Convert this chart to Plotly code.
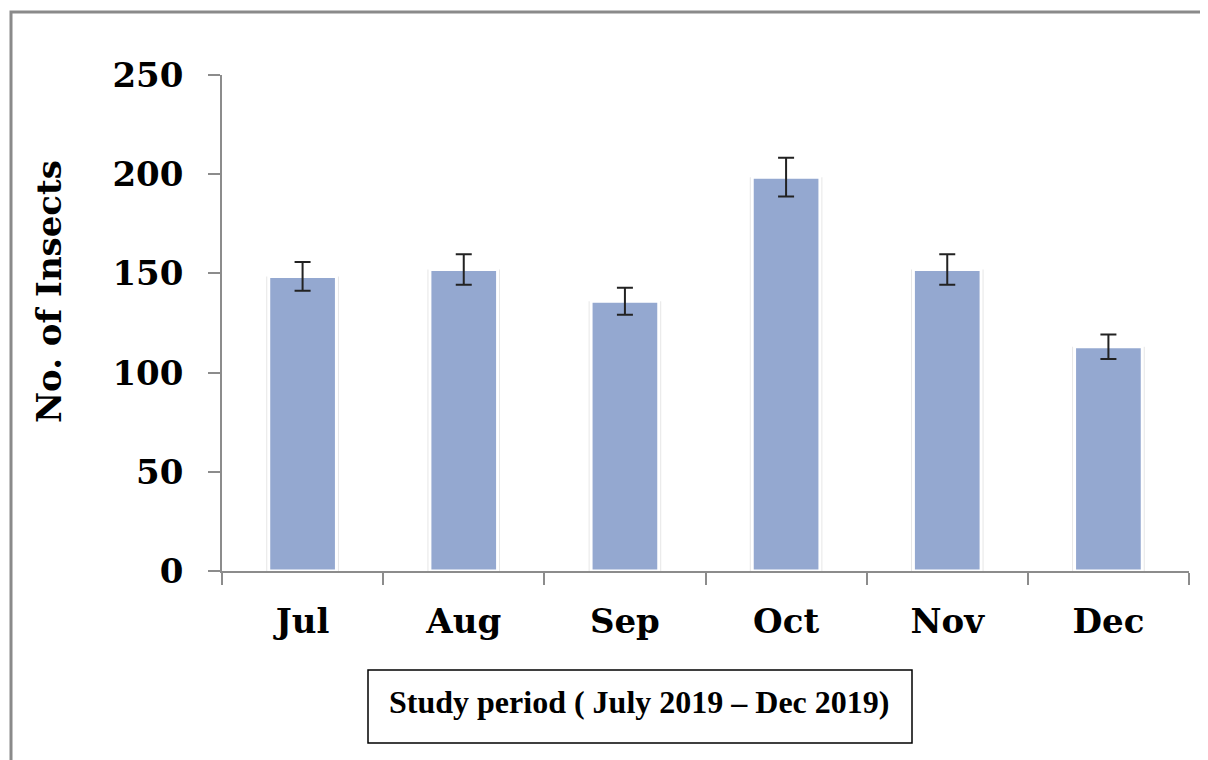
import plotly.graph_objects as go

months = ["Jul", "Aug", "Sep", "Oct", "Nov", "Dec"]
insects = [148.5, 152, 136, 198.5, 152, 113]
errors = [7.2, 7.7, 6.8, 9.8, 7.7, 6.2]
y_ticks = [0, 50, 100, 150, 200, 250]
y_title = "No. of Insects"
box_text = "Study period ( July 2019 \u2013 Dec 2019)"

OFF = 8  # page body margin
W, H = 1208 - OFF, 760 - OFF
L, R, T, B = 222 - OFF, 19, 75 - OFF, 189
pw, ph = W - L - R, H - T - B

def px_x(p):
    return (p - OFF - L) / pw

def px_y(p):
    return (H - B - (p - OFF)) / ph

fig = go.Figure()
# soft shadow behind bars
fig.add_trace(go.Bar(
    x=months, y=insects, width=0.45,
    marker=dict(color="#e4e4e4", line=dict(width=0)),
    hoverinfo="skip", showlegend=False,
))
fig.add_trace(go.Bar(
    x=months, y=insects, width=0.42,
    marker=dict(color="#94a8d0", line=dict(color="white", width=3)),
    error_y=dict(type="data", array=errors, visible=True,
                 color="#222222", thickness=2, width=8),
    showlegend=False,
))

tick_font = dict(family="DejaVu Serif", size=34, color="black", weight="bold")

fig.update_layout(
    width=W, height=H,
    margin=dict(l=L, r=R, t=T, b=B, pad=0),
    paper_bgcolor="white", plot_bgcolor="white",
    barmode="overlay",
    xaxis=dict(
        type="category", range=[-0.5, 5.5],
        showline=True, linecolor="#8c8c8c", linewidth=1.5,
        ticks="outside", tickson="boundaries", ticklen=12,
        tickcolor="#8c8c8c", tickwidth=1.5,
        tickfont=tick_font, ticklabelstandoff=19,
        showgrid=False, zeroline=False,
    ),
    yaxis=dict(
        range=[0, 250], tickvals=y_ticks,
        showline=True, linecolor="#8c8c8c", linewidth=1.5,
        ticks="outside", ticklen=12,
        tickcolor="#8c8c8c", tickwidth=1.5,
        tickfont=tick_font, ticklabelstandoff=18,
        showgrid=False, zeroline=False,
    ),
    shapes=[
        # outer frame
        dict(type="rect", xref="paper", yref="paper",
             x0=px_x(11), x1=px_x(1225), y0=px_y(780), y1=px_y(12),
             line=dict(color="#8a8a8a", width=3), fillcolor="rgba(0,0,0,0)",
             layer="above"),
        # caption box
        dict(type="rect", xref="paper", yref="paper",
             x0=px_x(368), x1=px_x(912), y0=px_y(743), y1=px_y(670),
             line=dict(color="black", width=1.5), fillcolor="white",
             layer="above"),
    ],
    annotations=[
        dict(text=y_title, xref="paper", yref="paper",
             x=px_x(49), y=px_y(292), textangle=-90, showarrow=False,
             xanchor="center", yanchor="middle",
             font=dict(family="DejaVu Serif", size=34, color="black", weight="bold")),
        dict(text=box_text, xref="paper", yref="paper",
             x=px_x(639), y=px_y(702), showarrow=False,
             xanchor="center", yanchor="middle",
             font=dict(family="Liberation Serif", size=32, color="black", weight="bold")),
    ],
)

fig.write_html("out.html")
